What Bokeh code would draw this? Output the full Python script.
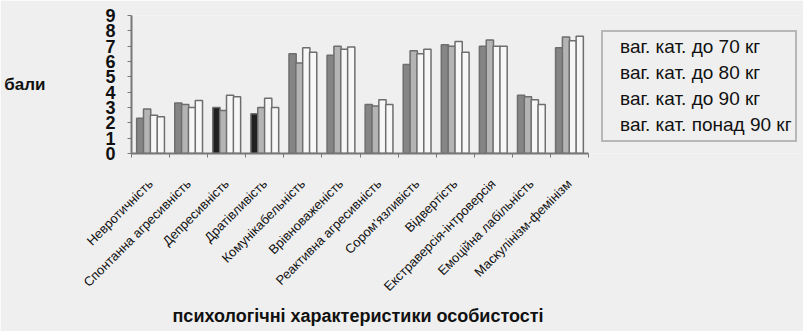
import math
from bokeh.plotting import figure
from bokeh.models import FixedTicker, Range1d, Legend, LegendItem, ColumnDataSource, Title
from bokeh.embed import file_html
from bokeh.resources import INLINE

categories = ["Невротичність", "Спонтанна агресивність", "Депресивність", "Дратівливість",
              "Комунікабельність", "Врівноваженість", "Реактивна агресивність", "Сором'язливість",
              "Відвертість", "Екстраверсія-інтроверсія", "Емоційна лабільність", "Маскулінізм-фемінізм"]
series_names = ["ваг. кат. до 70 кг", "ваг. кат. до 80 кг", "ваг. кат. до 90 кг", "ваг. кат. понад 90 кг"]
s70 = [2.3, 3.3, 3.0, 2.6, 6.5, 6.4, 3.2, 5.8, 7.1, 7.0, 3.8, 6.9]
s80 = [2.9, 3.2, 2.8, 3.0, 5.9, 7.0, 3.1, 6.7, 7.0, 7.4, 3.7, 7.6]
s90 = [2.5, 3.0, 3.8, 3.6, 6.9, 6.8, 3.5, 6.5, 7.3, 7.0, 3.5, 7.35]
s90p = [2.4, 3.45, 3.7, 3.0, 6.6, 6.95, 3.2, 6.8, 6.6, 7.0, 3.2, 7.65]
y_ticks = list(range(0, 10))
x_title = "психологічні характеристики особистості"
y_title = "бали"

BG = "#efefef"
FONT = "Liberation Sans"
# styling
s70_colors = ["#858585", "#858585", "#202020", "#202020", "#858585", "#858585",
              "#858585", "#858585", "#858585", "#858585", "#858585", "#858585"]
fills = [None, "#b4b4b4", "#f7f7f7", "#f7f7f7"]
legend_fills = ["#111111", "#f5f5f5", "#f5f5f5", "#f5f5f5"]
offsets = [-0.27, -0.09, 0.09, 0.27]
bw = 0.19

W, H = 803, 331
LEFT, TOP, BOTTOM = 131, 15, 178
unit_x = 457 / 12.0
x_end = 0.5 + (W - LEFT) / unit_x

p = figure(width=W, height=H, x_range=Range1d(0.5, x_end), y_range=Range1d(0, 9),
           output_backend="svg", toolbar_location=None,
           min_border_left=LEFT, min_border_right=0, min_border_top=TOP, min_border_bottom=BOTTOM)
p.background_fill_color = BG
p.border_fill_color = BG
p.outline_line_color = None
p.grid.visible = False

n = len(categories)
xs = [i + 1 for i in range(n)]
data = [s70, s80, s90, s90p]
for k, vals in enumerate(data):
    src = ColumnDataSource(dict(x=[x + offsets[k] for x in xs], top=vals,
                                fill=(s70_colors if k == 0 else [fills[k]] * n)))
    p.vbar(x="x", top="top", width=bw, bottom=0, source=src, fill_color="fill",
           line_color="#6e6e6e", line_width=1.5)

items = []
for k, name in enumerate(series_names):
    r = p.scatter(x=[], y=[], marker="square", size=11, fill_color=legend_fills[k],
                  line_color="#1a1a1a", line_width=1.6)
    items.append(LegendItem(label=name, renderers=[r]))

legend = Legend(items=items, location=(470, 11))
legend.border_line_color = "#808080"
legend.border_line_width = 2
legend.background_fill_color = BG
legend.background_fill_alpha = 1
legend.label_text_font = FONT
legend.label_text_font_size = "19px"
legend.label_text_color = "#111111"
legend.glyph_width = 12
legend.glyph_height = 12
legend.label_height = 24
legend.spacing = 2
legend.padding = 3
legend.margin = 0
legend.label_standoff = 2
p.add_layout(legend, "center")

# y axis
p.yaxis.ticker = FixedTicker(ticks=y_ticks, minor_ticks=[])
p.yaxis.major_label_text_font = FONT
p.yaxis.major_label_text_font_size = "18px"
p.yaxis.major_label_text_font_style = "bold"
p.yaxis.major_label_text_color = "#111111"
p.yaxis.major_tick_out = 4
p.yaxis.major_tick_in = 0
p.yaxis.major_tick_line_color = "#777777"
p.yaxis.axis_line_color = "#777777"
p.yaxis.axis_line_width = 2
p.yaxis.major_label_standoff = 12
p.yaxis.axis_label = y_title
p.yaxis.axis_label_orientation = "horizontal"
p.yaxis.axis_label_text_font = FONT
p.yaxis.axis_label_text_font_size = "17px"
p.yaxis.axis_label_text_font_style = "bold"
p.yaxis.axis_label_text_color = "#111111"
p.yaxis.axis_label_standoff = 57

# x axis
p.xaxis.bounds = (0.5, 12.5)
p.xaxis.ticker = FixedTicker(ticks=xs, minor_ticks=[x + 0.5 for x in [0] + xs])
p.xaxis.major_label_overrides = {x: c for x, c in zip(xs, categories)}
p.xaxis.major_label_orientation = math.pi / 4
p.xaxis.major_label_text_font = FONT
p.xaxis.major_label_text_font_size = "13px"
p.xaxis.major_label_text_color = "#111111"
p.xaxis.major_tick_out = 0
p.xaxis.major_tick_in = 0
p.xaxis.minor_tick_out = 4
p.xaxis.minor_tick_in = 0
p.xaxis.minor_tick_line_color = "#777777"
p.xaxis.axis_line_color = "#777777"
p.xaxis.axis_line_width = 2
p.xaxis.major_label_standoff = 24

title = Title(text=x_title, align="left", offset=41, standoff=2,
              text_font=FONT, text_font_size="18px", text_font_style="bold",
              text_color="#111111")
p.add_layout(title, "below")

open("out.html", "w").write(file_html(p, INLINE))
